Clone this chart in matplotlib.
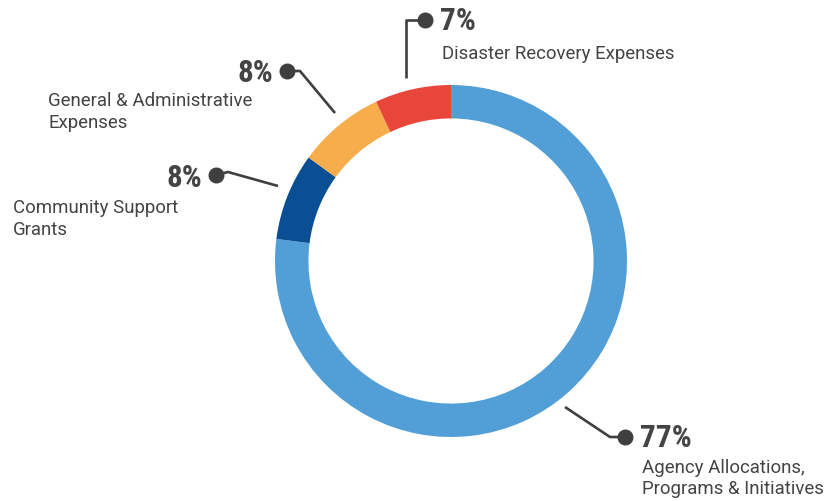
import matplotlib
matplotlib.use("Agg")
import matplotlib.pyplot as plt
from matplotlib import font_manager

categories = ["Agency Allocations,\nPrograms & Initiatives", "Community Support\nGrants",
              "General & Administrative\nExpenses", "Disaster Recovery Expenses"]
values = [77, 8, 8, 7]
pct_labels = ["77%", "8%", "8%", "7%"]
colors = ["#519FD6", "#0A4E94", "#F7AD4B", "#E8453B"]

W, H = 825, 501
fig = plt.figure(figsize=(W / 100, H / 100), dpi=100)
ax = fig.add_axes([0, 0, 1, 1])
ax.set_xlim(0, W)
ax.set_ylim(0, H)
ax.set_aspect("equal")
ax.axis("off")

def Y(y):
    return H - y

avail = {f.name for f in font_manager.fontManager.ttflist}
bold_fam = [f for f in ["Roboto Condensed", "Liberation Sans Narrow", "Roboto", "DejaVu Sans"] if f in avail]
reg_fam = [f for f in ["Roboto", "DejaVu Sans"] if f in avail]

cx, cy, R = 451, 261, 176
ax.pie(values, colors=colors, startangle=90, counterclock=False,
       center=(cx, Y(cy)), radius=R, frame=True,
       wedgeprops=dict(width=R * 0.19, linewidth=0))
ax.set_xlim(0, W)
ax.set_ylim(0, H)
ax.axis("off")

txt = "#444444"
lc = "#3f3f3f"
lw = 1.9
ms = 10.5

connectors = [
    [(565, 407), (610, 437), (625, 437)],   # Agency
    [(278, 186), (228, 172), (216, 175)],   # Community
    [(335, 113), (300, 71), (287, 71)],     # General
    [(406, 78), (406, 20), (425, 20)],      # Disaster
]
for pts in connectors:
    xs = [p[0] for p in pts]
    ys = [Y(p[1]) for p in pts]
    ax.plot(xs, ys, color=lc, lw=lw, solid_capstyle="butt")
    ax.plot(xs[-1], ys[-1], "o", color=lc, ms=ms)

pfs = 22.5
ax.text(640, Y(438), pct_labels[0], ha="left", va="center", fontsize=pfs,
        fontweight="bold", color=txt, family=bold_fam)
ax.text(202, Y(178), pct_labels[1], ha="right", va="center", fontsize=pfs,
        fontweight="bold", color=txt, family=bold_fam)
ax.text(273, Y(73), pct_labels[2], ha="right", va="center", fontsize=pfs,
        fontweight="bold", color=txt, family=bold_fam)
ax.text(440, Y(21), pct_labels[3], ha="left", va="center", fontsize=pfs,
        fontweight="bold", color=txt, family=bold_fam)

lfs = 13.4
ls = 1.25
ax.text(642, Y(459), categories[0], ha="left", va="top", fontsize=lfs,
        color=txt, family=reg_fam, linespacing=ls)
ax.text(13, Y(199), categories[1], ha="left", va="top", fontsize=lfs,
        color=txt, family=reg_fam, linespacing=ls)
ax.text(48, Y(92), categories[2], ha="left", va="top", fontsize=lfs,
        color=txt, family=reg_fam, linespacing=ls)
ax.text(442, Y(45), categories[3], ha="left", va="top", fontsize=lfs,
        color=txt, family=reg_fam, linespacing=ls)

fig.savefig("out.png", dpi=100, facecolor="white")
